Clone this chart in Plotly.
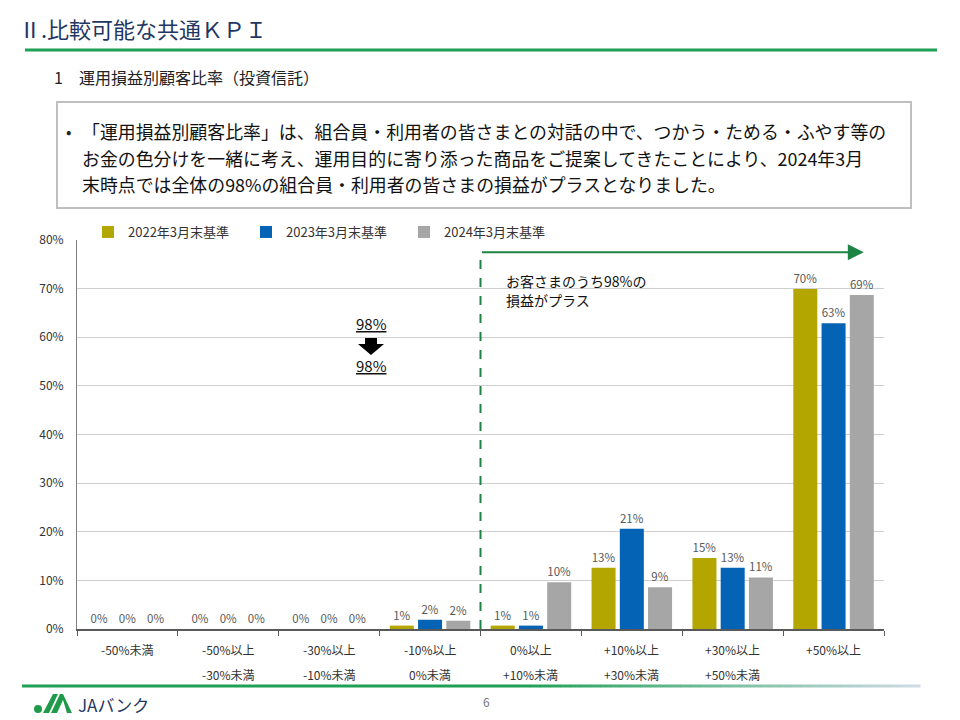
import plotly.graph_objects as go
import numpy as np

W, H = 960, 720

categories = ["c1", "c2", "c3", "c4", "c5", "c6", "c7", "c8"]
label_line1 = ["-50%未満", "-50%以上", "-30%以上", "-10%以上", "0%以上", "+10%以上", "+30%以上", "+50%以上"]
label_line2 = ["", "-30%未満", "-10%未満", "0%未満", "+10%未満", "+30%未満", "+50%未満", ""]

series_names = ["2022年3月末基準", "2023年3月末基準", "2024年3月末基準"]
values_2022 = [0, 0, 0, 0.7, 0.7, 12.6, 14.6, 69.9]
values_2023 = [0, 0, 0, 1.9, 0.7, 20.6, 12.6, 62.9]
values_2024 = [0, 0, 0, 1.7, 9.6, 8.6, 10.6, 68.7]
series_colors = ["#B3A600", "#0563B5", "#A6A6A6"]

y_ticks = [0, 10, 20, 30, 40, 50, 60, 70, 80]

title_text = "Ⅱ.比較可能な共通ＫＰＩ"
subtitle_text = "1　運用損益別顧客比率（投資信託）"
box_lines = [
    "「運用損益別顧客比率」は、組合員・利用者の皆さまとの対話の中で、つかう・ためる・ふやす等の",
    "お金の色分けを一緒に考え、運用目的に寄り添った商品をご提案してきたことにより、2024年3月",
    "末時点では全体の98%の組合員・利用者の皆さまの損益がプラスとなりました。",
]
note_lines = ["お客さまのうち98%の", "損益がプラス"]
change_before = "98%"
change_after = "98%"
page_number = "6"
logo_text = "JAバンク"

FONT = "Noto Sans CJK JP, Noto Sans, sans-serif"


def px(x):
    return x / W


def py(y):
    return 1 - y / H


fig = go.Figure()
for name, vals, col in zip(series_names, [values_2022, values_2023, values_2024], series_colors):
    fig.add_trace(go.Bar(
        x=categories, y=vals, name=name, marker=dict(color=col, line=dict(width=0)),
        texttemplate="%{y:.0f}%", textposition="outside",
        textfont=dict(size=11.5, color="#595959", family=FONT),
        cliponaxis=False,
    ))

x0p, x1p = 77, 884
y0p, y1p = 629, 240

fig.update_layout(
    width=W, height=H,
    margin=dict(l=0, r=0, t=0, b=0, autoexpand=False),
    paper_bgcolor="white", plot_bgcolor="white",
    font=dict(family=FONT, color="#222222"),
    barmode="group", bargap=0.16, bargroupgap=0.15,
    showlegend=True,
    legend=dict(orientation="h", x=px(88), y=py(217), xanchor="left", yanchor="top",
                font=dict(size=13, color="#333333"), entrywidth=113, entrywidthmode="pixels",
                itemwidth=30, bgcolor="rgba(0,0,0,0)"),
    xaxis=dict(domain=[px(x0p), px(x1p)], type="category", showticklabels=False,
               showline=True, linecolor="#595959", linewidth=1.5, automargin=False,
               ticks="outside", tickson="boundaries", ticklen=5, tickcolor="#595959",
               showgrid=False, range=[-0.5, 7.5], fixedrange=True),
    yaxis=dict(domain=[py(y0p), py(y1p)], range=[0, 80], tickvals=y_ticks, automargin=False,
               ticktext=[f"{v}%" for v in y_ticks], showline=True, linecolor="#808080",
               gridcolor="#CFCFCF", gridwidth=1, zeroline=False,
               tickfont=dict(size=12, color="#333333"), ticks="", ticklabelstandoff=10),
)

shapes = []
annotations = []

# Category labels (two lines)
for c, l1, l2 in zip(categories, label_line1, label_line2):
    annotations.append(dict(x=c, xref="x", y=py(649), yref="paper", text=l1, showarrow=False,
                            font=dict(size=12, color="#333333"), xanchor="center", yanchor="middle"))
    if l2:
        annotations.append(dict(x=c, xref="x", y=py(674), yref="paper", text=l2, showarrow=False,
                                font=dict(size=12, color="#333333"), xanchor="center", yanchor="middle"))

# Green dashed bracket with arrow
green = "#1E8443"
shapes.append(dict(type="line", xref="x", yref="y", x0=3.5, x1=3.5, y0=0, y1=77.5,
                   line=dict(color=green, width=2, dash="dash")))
annotations.append(dict(x=7.3, y=77.5, xref="x", yref="y", ax=3.5, ay=77.5, axref="x", ayref="y",
                        text="", showarrow=True, arrowhead=2, arrowsize=1.6, arrowwidth=2,
                        arrowcolor=green))
for i, t in enumerate(note_lines):
    annotations.append(dict(x=px(504), y=py(281 + 18.5 * i), xref="paper", yref="paper", text=t,
                            showarrow=False, xanchor="left", yanchor="middle", align="left",
                            font=dict(size=14, color="#111111")))

# 98% -> 98%
annotations.append(dict(x=px(371), y=py(323), xref="paper", yref="paper", text=f"<u>{change_before}</u>",
                        showarrow=False, xanchor="center", yanchor="middle",
                        font=dict(size=15, color="#111111")))
annotations.append(dict(x=px(371), y=py(365), xref="paper", yref="paper", text=f"<u>{change_after}</u>",
                        showarrow=False, xanchor="center", yanchor="middle",
                        font=dict(size=15, color="#111111")))
ax_c = 371
pts = [(ax_c - 6, 338), (ax_c + 6, 338), (ax_c + 6, 344), (ax_c + 13, 344), (ax_c, 355),
       (ax_c - 13, 344), (ax_c - 6, 344)]
path = "M " + " L ".join(f"{px(a):.5f},{py(b):.5f}" for a, b in pts) + " Z"
shapes.append(dict(type="path", xref="paper", yref="paper", path=path,
                   fillcolor="#000000", line=dict(width=0)))

# Page header
annotations.append(dict(x=px(17), y=py(28), xref="paper", yref="paper", text=title_text,
                        showarrow=False, xanchor="left", yanchor="middle",
                        font=dict(size=22, color="#1F3763")))
shapes.append(dict(type="line", xref="paper", yref="paper", x0=px(25), x1=px(937), y0=py(50), y1=py(50),
                   line=dict(color="#1EA055", width=3)))
annotations.append(dict(x=px(52), y=py(77), xref="paper", yref="paper", text=subtitle_text,
                        showarrow=False, xanchor="left", yanchor="middle",
                        font=dict(size=16, color="#222222")))

# Text box
shapes.append(dict(type="rect", xref="paper", yref="paper", x0=px(57), x1=px(911), y0=py(102), y1=py(208),
                   line=dict(color="#BFBFBF", width=2), fillcolor="rgba(0,0,0,0)"))
annotations.append(dict(x=px(64), y=py(131), xref="paper", yref="paper", text="•",
                        showarrow=False, xanchor="left", yanchor="middle",
                        font=dict(size=16, color="#222222")))
for i, line in enumerate(box_lines):
    annotations.append(dict(x=px(80), y=py(131 + 26.5 * i), xref="paper", yref="paper", text=line,
                            showarrow=False, xanchor="left", yanchor="middle",
                            font=dict(size=17.9, color="#111111")))

# Bottom gradient line
start_g = np.array([0x1E, 0xA0, 0x55])
end_g = np.array([0xD0, 0xDC, 0xE6])
shapes.append(dict(type="line", xref="paper", yref="paper", x0=px(22), x1=px(520), y0=py(686), y1=py(686),
                   line=dict(color="#1EA055", width=3)))
nseg = 40
for k in range(nseg):
    a = 520 + (920 - 520) * k / nseg
    b = 520 + (920 - 520) * (k + 1) / nseg
    t = (k + 0.5) / nseg
    c = (start_g * (1 - t) + end_g * t).astype(int)
    shapes.append(dict(type="line", xref="paper", yref="paper", x0=px(a), x1=px(b + 0.5), y0=py(686), y1=py(686),
                       line=dict(color=f"rgb({c[0]},{c[1]},{c[2]})", width=3)))

annotations.append(dict(x=px(486), y=py(701), xref="paper", yref="paper", text=page_number,
                        showarrow=False, xanchor="center", yanchor="middle",
                        font=dict(size=12, color="#777777")))

# Logo
logo_green = "#1E9A4A"
shapes.append(dict(type="circle", xref="paper", yref="paper", x0=px(34), x1=px(42), y0=py(713), y1=py(705),
                   fillcolor=logo_green, line=dict(width=0)))
for poly in [[(43, 713), (49, 713), (58, 694), (53, 694)],
             [(51, 713), (57, 713), (63, 700), (67, 713), (72, 713), (63, 694), (60, 694)]]:
    p = "M " + " L ".join(f"{px(a):.5f},{py(b):.5f}" for a, b in poly) + " Z"
    shapes.append(dict(type="path", xref="paper", yref="paper", path=p, fillcolor=logo_green, line=dict(width=0)))
annotations.append(dict(x=px(76), y=py(704), xref="paper", yref="paper", text=logo_text,
                        showarrow=False, xanchor="left", yanchor="middle",
                        font=dict(size=17, color="#1F3763")))

fig.update_layout(shapes=shapes, annotations=annotations)
fig.write_html("out.html", config={"displayModeBar": False},
               post_script="document.body.style.margin='0';document.body.style.overflow='hidden';")
